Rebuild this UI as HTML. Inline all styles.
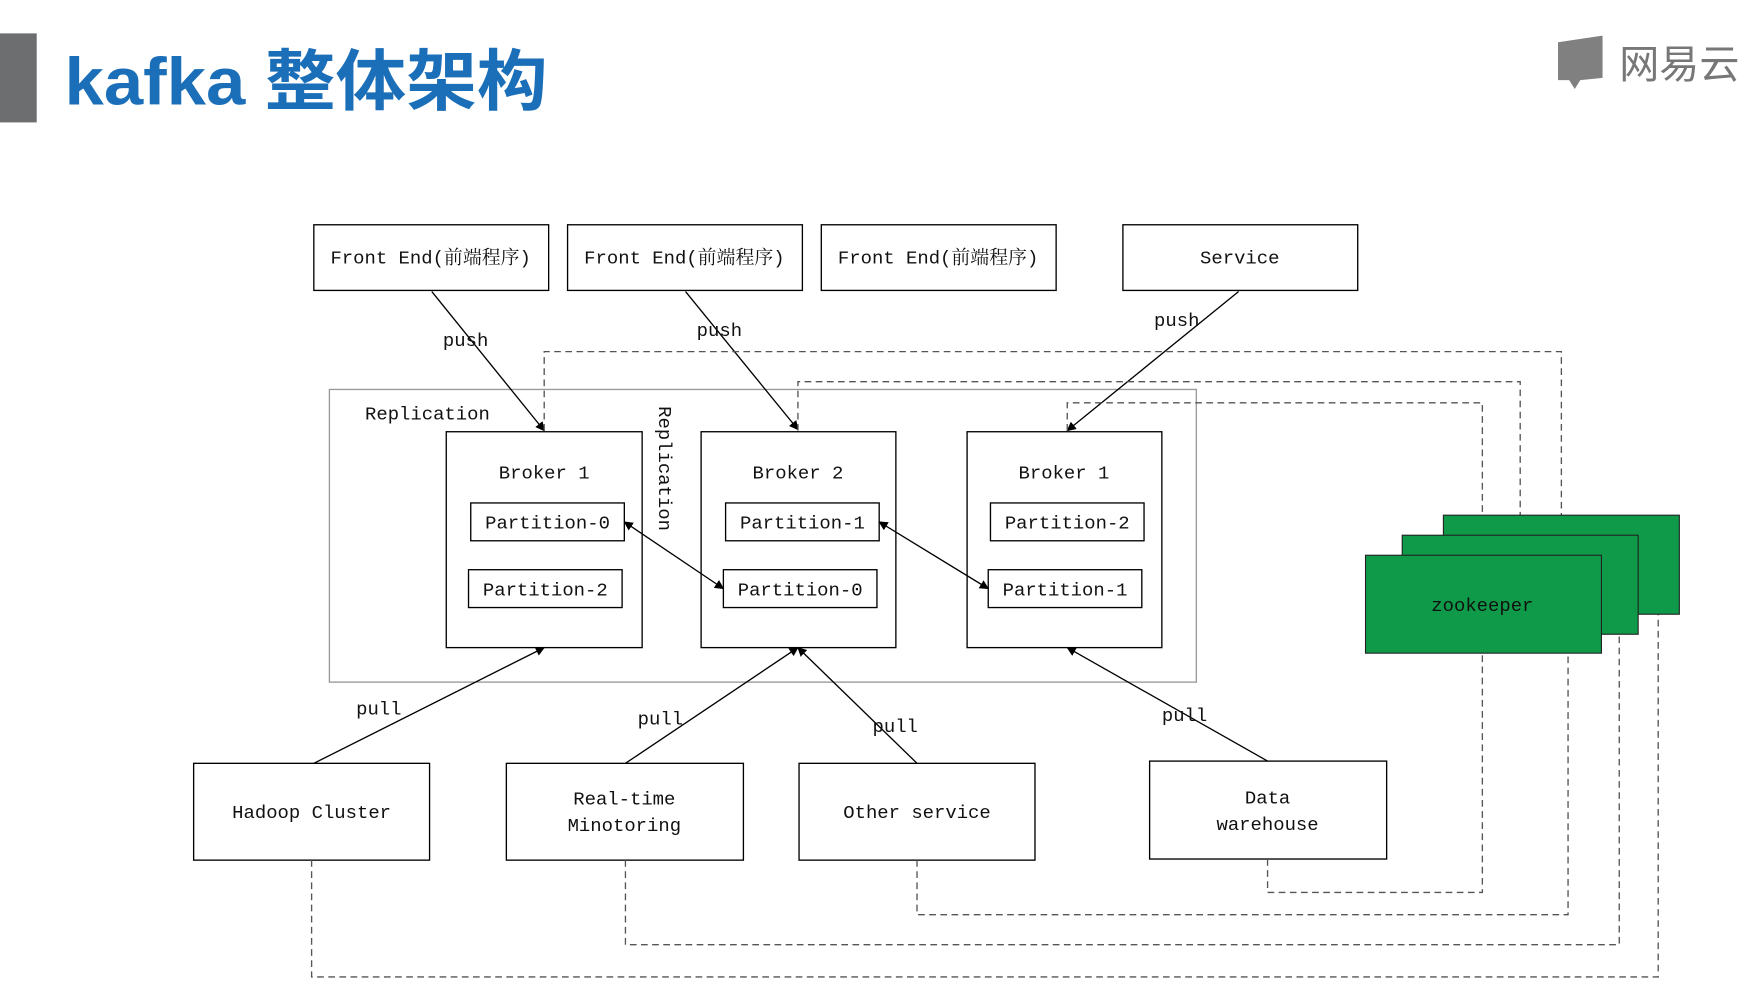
<!DOCTYPE html>
<html><head><meta charset="utf-8"><style>
html,body{margin:0;padding:0;background:#fff;overflow:hidden}
svg{display:block}
.s{font-family:"Liberation Mono","Noto Serif CJK SC",monospace;font-size:17px;fill:#111}
</style></head><body>
<svg width="1745" height="997" viewBox="0 0 1568 896" preserveAspectRatio="none" xmlns="http://www.w3.org/2000/svg">
<defs><marker id="a" viewBox="0 0 10 10" refX="9" refY="5" markerWidth="7" markerHeight="7" orient="auto-start-reverse"><path d="M0,0L10,5L0,10z" fill="#000"/></marker></defs>
<rect x="0" y="30" width="33" height="80" fill="#6d6e70"/>
<text x="58" y="94" textLength="434" lengthAdjust="spacingAndGlyphs" font-size="60" font-weight="bold" fill="#1b6fb8" style="font-family:'Liberation Sans','Noto Sans CJK SC',sans-serif">kafka 整体架构</text>
<path d="M1400,38 L1440,32 L1440,70 L1420,72 L1415,80 L1410,72 L1400,72z" fill="#808080"/>
<text x="1455" y="70" style="font-family:'Liberation Sans','Noto Sans CJK SC',sans-serif" font-size="36" fill="#777">网易云</text>
<g fill="none" stroke="#000" stroke-width="1.2">
<rect x="282" y="202" width="211" height="59"/><rect x="510" y="202" width="211" height="59"/>
<rect x="738" y="202" width="211" height="59"/><rect x="1009" y="202" width="211" height="59"/>
<rect x="296" y="350" width="779" height="263" stroke="#999"/>
<rect x="401" y="388" width="176" height="194"/><rect x="630" y="388" width="175" height="194"/><rect x="869" y="388" width="175" height="194"/>
<rect x="423" y="452" width="138" height="34"/><rect x="421" y="512" width="138" height="34"/>
<rect x="652" y="452" width="138" height="34"/><rect x="650" y="512" width="138" height="34"/>
<rect x="890" y="452" width="138" height="34"/><rect x="888" y="512" width="138" height="34"/>
<rect x="174" y="686" width="212" height="87"/><rect x="455" y="686" width="213" height="87"/>
<rect x="718" y="686" width="212" height="87"/><rect x="1033" y="684" width="213" height="88"/>
</g>
<g stroke="#000" stroke-width="1.2" fill="none">
<line x1="388" y1="262" x2="489" y2="387" marker-end="url(#a)"/>
<line x1="616" y1="262" x2="717" y2="386" marker-end="url(#a)"/>
<line x1="1113" y1="262" x2="959" y2="387" marker-end="url(#a)"/>
<line x1="561" y1="469" x2="650" y2="529" marker-start="url(#a)" marker-end="url(#a)"/>
<line x1="790" y1="469" x2="888" y2="529" marker-start="url(#a)" marker-end="url(#a)"/>
<line x1="282" y1="686" x2="489" y2="582" marker-end="url(#a)"/>
<line x1="562" y1="686" x2="717" y2="582" marker-end="url(#a)"/>
<line x1="824" y1="686" x2="717" y2="582" marker-end="url(#a)"/>
<line x1="1139" y1="684" x2="959" y2="582" marker-end="url(#a)"/>
</g>
<g stroke="#555" stroke-width="1.2" fill="none" stroke-dasharray="6,4">
<polyline points="489,387 489,316 1403,316 1403,463"/>
<polyline points="717,387 717,343 1366,343 1366,482"/>
<polyline points="959,387 959,362 1332,362 1332,500"/>
<polyline points="280,773 280,878 1490,878 1490,552"/>
<polyline points="562,773 562,849 1455,849 1455,570"/>
<polyline points="824,773 824,822 1409,822 1409,587"/>
<polyline points="1139,772 1139,802 1332,802 1332,587"/>
</g>
<g fill="#0e9a48" stroke="#222" stroke-width="1">
<rect x="1297" y="463" width="212" height="89"/><rect x="1260" y="481" width="212" height="89"/><rect x="1227" y="499" width="212" height="88"/>
</g>
<g class="s" text-anchor="middle">
<text x="387" y="237">Front End(前端程序)</text><text x="615" y="237">Front End(前端程序)</text>
<text x="843" y="237">Front End(前端程序)</text><text x="1114" y="237">Service</text>
<text x="489" y="430">Broker 1</text><text x="717" y="430">Broker 2</text><text x="956" y="430">Broker 1</text>
<text x="492" y="475">Partition-0</text><text x="490" y="535">Partition-2</text>
<text x="721" y="475">Partition-1</text><text x="719" y="535">Partition-0</text>
<text x="959" y="475">Partition-2</text><text x="957" y="535">Partition-1</text>
<text x="1332" y="549">zookeeper</text>
<text x="280" y="735">Hadoop Cluster</text>
<text x="561" y="723">Real-time</text><text x="561" y="747">Minotoring</text>
<text x="824" y="735">Other service</text>
<text x="1139" y="722">Data</text><text x="1139" y="746">warehouse</text>
</g>
<g class="s">
<text x="328" y="377">Replication</text>
<text x="398" y="311">push</text><text x="626" y="302">push</text><text x="1037" y="293">push</text>
<text x="320" y="642">pull</text><text x="573" y="651">pull</text><text x="784" y="658">pull</text><text x="1044" y="648">pull</text>
<text transform="translate(592,365) rotate(90)">Replication</text>
</g>
</svg>
</body></html>
